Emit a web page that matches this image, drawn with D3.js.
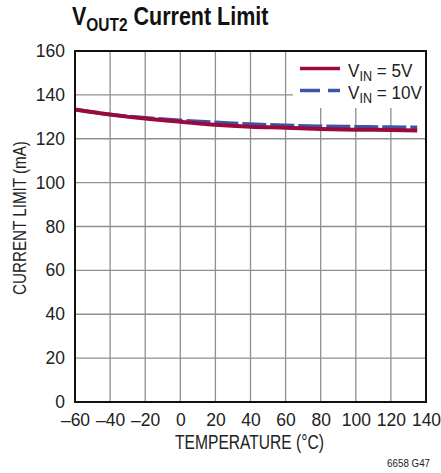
<!DOCTYPE html>
<html>
<head>
<meta charset="utf-8">
<script src="https://cdn.jsdelivr.net/npm/d3@7/dist/d3.min.js"></script>
<style>
  html, body { margin: 0; padding: 0; background: #fff; }
  svg { display: block; }
  text { font-family: "Liberation Sans", Arial, sans-serif; fill: #222; }
</style>
</head>
<body>
<svg id="chart" width="441" height="473"></svg>
<script>
// Temperature sweep (°C) and measured current limit (mA)
const temps    = [-60, -40, -20, 0, 20, 40, 60, 80, 100, 120, 135];
const vin5V    = [133.3, 131.0, 129.2, 127.8, 126.4, 125.5, 125.0, 124.4, 124.1, 124.0, 123.8];
const vin10V   = [133.3, 131.1, 129.5, 128.4, 127.5, 126.7, 126.1, 125.7, 125.5, 125.3, 125.2];

const xTicks = [-60, -40, -20, 0, 20, 40, 60, 80, 100, 120, 140];
const yTicks = [0, 20, 40, 60, 80, 100, 120, 140, 160];

const legendItems = [
  { sub: "IN", rest: " = 5V",  color: "#9b0a3c", dash: null,   values: vin5V },
  { sub: "IN", rest: " = 10V", color: "#3b56a6", dash: "20,8", values: vin10V }
];

const plot = { left: 75, right: 426, top: 51, bottom: 402 };

const svg = d3.select("#chart");

const x = d3.scaleLinear().domain([-60, 140]).range([plot.left, plot.right]);
const y = d3.scaleLinear().domain([0, 160]).range([plot.bottom, plot.top]);

// Condensed-looking text: horizontally squeezed group
function squeezed(parent, tx, ty, sx, rotate) {
  const g = parent.append("g")
    .attr("transform", `translate(${tx},${ty})` + (rotate ? ` rotate(${rotate})` : "") + ` scale(${sx},1)`);
  return g.append("text").attr("x", 0).attr("y", 0);
}

// Grid
const grid = svg.append("g");
grid.selectAll("line.vx").data(xTicks.slice(1, -1)).enter().append("line")
  .attr("x1", d => x(d)).attr("x2", d => x(d))
  .attr("y1", plot.top).attr("y2", plot.bottom)
  .attr("stroke", "#8f8f8f").attr("stroke-width", 1.3);
grid.selectAll("line.hy").data(yTicks.slice(1, -1)).enter().append("line")
  .attr("x1", plot.left).attr("x2", plot.right)
  .attr("y1", d => y(d)).attr("y2", d => y(d))
  .attr("stroke", "#8f8f8f").attr("stroke-width", 1.3);

// Axes (labels only; the frame is drawn separately)
const minus = v => (v < 0 ? "\u2013" + Math.abs(v) : String(v));
const xAxis = d3.axisBottom(x).tickValues(xTicks).tickSize(0).tickPadding(14).tickFormat(minus);
const yAxis = d3.axisLeft(y).tickValues(yTicks).tickSize(0).tickPadding(10).tickFormat(minus);

const gx = svg.append("g").attr("transform", `translate(0,${plot.bottom})`).call(xAxis);
const gy = svg.append("g").attr("transform", `translate(${plot.left},0)`).call(yAxis);
[gx, gy].forEach(g => {
  g.select(".domain").remove();
  g.selectAll("text").attr("font-size", 17.5).attr("fill", "#222")
    .attr("font-family", "'Liberation Sans', Arial, sans-serif");
});
gx.selectAll("text").attr("dy", "0.55em");

// Legend background (covers grid)
const legend = svg.append("g");
legend.append("rect")
  .attr("x", 293).attr("y", plot.top).attr("width", plot.right - 293).attr("height", 57)
  .attr("fill", "#fff");

// Data lines
const line = d3.line()
  .x((d, i) => x(temps[i]))
  .y(d => y(d))
  .curve(d3.curveMonotoneX);

svg.append("path").datum(vin10V)
  .attr("d", line).attr("fill", "none")
  .attr("stroke", legendItems[1].color).attr("stroke-width", 3.6)
  .attr("stroke-dasharray", "24,4");
svg.append("path").datum(vin5V)
  .attr("d", line).attr("fill", "none")
  .attr("stroke", legendItems[0].color).attr("stroke-width", 4);

// Legend entries
legendItems.forEach((it, i) => {
  const ly = 68.5 + i * 22;
  legend.append("line")
    .attr("x1", 300).attr("x2", 340).attr("y1", ly).attr("y2", ly)
    .attr("stroke", it.color).attr("stroke-width", 3.6)
    .attr("stroke-dasharray", it.dash);
  const t = squeezed(legend, 348, ly + 8.5, 0.9).attr("font-size", 19);
  t.append("tspan").text("V");
  t.append("tspan").text(it.sub).attr("font-size", 14).attr("dy", 4);
  t.append("tspan").text(it.rest).attr("dy", -4);
});

// Frame
svg.append("rect")
  .attr("x", plot.left).attr("y", plot.top)
  .attr("width", plot.right - plot.left).attr("height", plot.bottom - plot.top)
  .attr("fill", "none").attr("stroke", "#111").attr("stroke-width", 2);

// Title
const title = squeezed(svg, 72, 25, 0.86)
  .attr("font-size", 25).attr("font-weight", "bold").style("fill", "#111");
title.append("tspan").text("V");
title.append("tspan").text("OUT2").attr("font-size", 18).attr("dy", 6);
title.append("tspan").text(" Current Limit").attr("dy", -6);

// Axis titles
squeezed(svg, 249.5, 449, 0.8)
  .attr("text-anchor", "middle").attr("font-size", 19.5)
  .text("TEMPERATURE (°C)");
squeezed(svg, 26, 218, 0.8, -90)
  .attr("text-anchor", "middle").attr("font-size", 19)
  .text("CURRENT LIMIT (mA)");

squeezed(svg, 430, 467, 0.85).attr("text-anchor", "end")
  .attr("font-size", 11.5).text("6658 G47");
</script>
</body>
</html>
